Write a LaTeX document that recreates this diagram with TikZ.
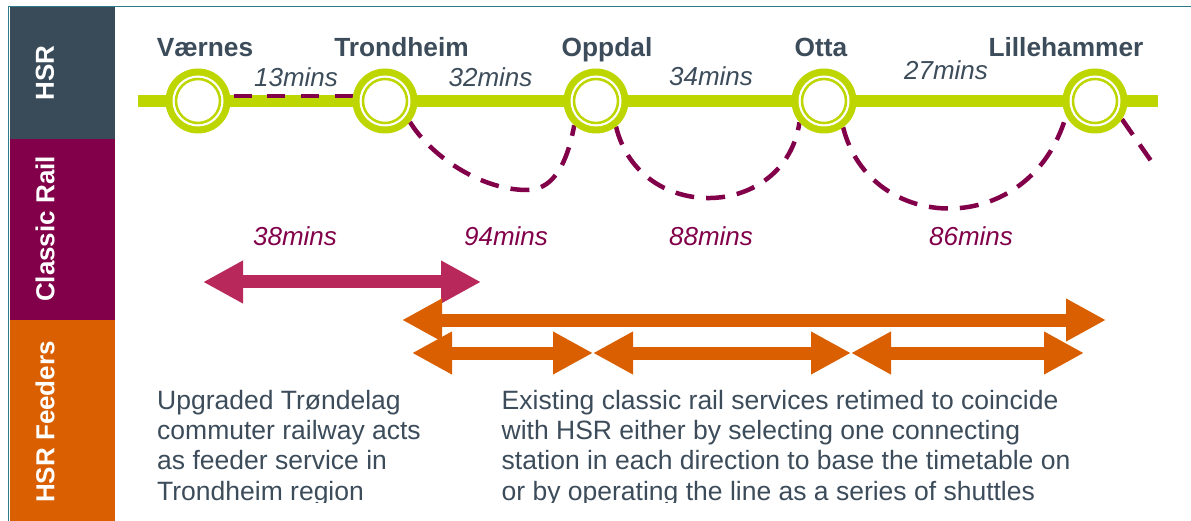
\documentclass[tikz,border=0pt]{standalone}
\usepackage{fontspec}
\setmainfont{Liberation Sans}
\usetikzlibrary{arrows.meta,calc}
\definecolor{hsr}{HTML}{394B59}
\definecolor{crail}{HTML}{82004A}
\definecolor{feed}{HTML}{D95F00}
\definecolor{lime}{HTML}{BED600}
\definecolor{pinkarr}{HTML}{B8285A}
\definecolor{txt}{HTML}{3C4C5A}
\definecolor{tealline}{HTML}{2B7C86}
\pgfdeclarelayer{bg}
\pgfsetlayers{bg,main}
\begin{document}
\begin{tikzpicture}[x=1pt,y=-1pt,
  station/.style={circle, fill=lime, minimum size=65pt, inner sep=0pt, outer sep=0pt},
  stname/.style={anchor=base, font=\fontsize{26.3}{30}\selectfont\bfseries, text=txt, inner sep=0pt},
  hsrtime/.style={anchor=base, font=\fontsize{26}{30}\selectfont\itshape, text=txt, inner sep=0pt},
  crtime/.style={anchor=base, font=\fontsize{26}{30}\selectfont\itshape, text=crail, inner sep=0pt},
  crdash/.style={draw=crail, line width=4.5pt, dash pattern=on 19pt off 12pt},
  crstraight/.style={draw=crail, line width=4.5pt, dash pattern=on 18pt off 15.7pt},
  track/.style={draw=lime, line width=12pt},
  sidelabel/.style={rotate=90, font=\fontsize{26}{30}\selectfont\bfseries, text=white, inner sep=0pt},
  bigarrow/.style={line width=13pt, arrows={Triangle[length=40pt,width=40pt]-Triangle[length=40pt,width=40pt]}},
  body/.style={anchor=base west, inner sep=0pt, text=txt}
]
\useasboundingbox (0,0) rectangle (1191,521);

% sidebar
\fill[hsr] (9.5,7) rectangle (115,139);
\fill[crail] (9.5,139) rectangle (115,320);
\fill[feed] (9.5,320) rectangle (115,521);
\draw[tealline, line width=1.5pt] (8.5,521) -- (8.5,6.5) -- (1191,6.5);
\node[sidelabel] (lhsr) at (45,73) {HSR};
\node[sidelabel] (lcr) at (45,229) {Classic Rail};
\node[sidelabel] (lfd) at (45,422) {HSR Feeders};

% stations
\node[station] (vae) at (198,101) {};
\node[station] (tro) at (385,101) {};
\node[station] (opp) at (596,101) {};
\node[station] (ott) at (824,101) {};
\node[station] (lil) at (1095,101) {};
\foreach \s in {vae,tro,opp,ott,lil}{
  \fill[white] (\s.center) circle (25.5);
  \draw[lime, line width=2.5pt] (\s.center) circle (22);
}

\begin{pgfonlayer}{bg}
  \fill[white] (0,0) rectangle (1191,521);
  \coordinate (trackW) at (138,101);
  \coordinate (trackE) at (1158,101);
  \draw[track] (trackW) -- (trackE);
  \draw[crstraight] ($(vae.east)+(3,-5)$) -- ($(tro.west)+(0,-5)$);
  \draw[crdash] (tro.-40) .. controls (430,155) and (480,190) .. (527,190)
        .. controls (550,190) and (566,170) .. (opp.-132);
  \draw[crdash] (opp.-52) .. controls (640,225) and (785,220) .. (ott.-139);
  \draw[crdash] (ott.-54) .. controls (870,235) and (1030,240) .. (lil.-153);
  \coordinate (tail) at (1156,168);
  \draw[crdash] (lil.-34) -- (tail);
\end{pgfonlayer}

% station names
\node[stname] (nvae) at (205,57) {Værnes};
\node[stname] (ntro) at (401.5,57) {Trondheim};
\node[stname] (nopp) at (607,57) {Oppdal};
\node[stname] (nott) at (821,57) {Otta};
\node[stname] (nlil) at (1066,57) {Lillehammer};

% HSR times
\node[hsrtime] (h1) at (296,87) {13mins};
\node[hsrtime] (h2) at (490.5,86.5) {32mins};
\node[hsrtime] (h3) at (711,86) {34mins};
\node[hsrtime] (h4) at (946,79.5) {27mins};

% classic rail times
\node[crtime] (c1) at (295,246) {38mins};
\node[crtime] (c2) at (506,246) {94mins};
\node[crtime] (c3) at (711,246) {88mins};
\node[crtime] (c4) at (971,246) {86mins};

% arrows
\coordinate (pa1) at (203,282);
\coordinate (pa2) at (481,282);
\draw[bigarrow, pinkarr] (pa1) -- (pa2);
\coordinate (la1) at (402,320);
\coordinate (la2) at (1106,320);
\draw[bigarrow, feed] (la1) -- (la2);
\coordinate (s1) at (412,353);
\coordinate (s2) at (593,353);
\coordinate (s3) at (851,353);
\coordinate (s4) at (1084,353);
\draw[bigarrow, feed] (s1) -- (s2);
\draw[bigarrow, feed] (s2) -- (s3);
\draw[bigarrow, feed] (s3) -- (s4);

% body texts
\begin{scope}
\clip (130,370) rectangle (1191,502.5);
\node[body] (t1) at (157,409) {\parbox[t]{330pt}{\fontsize{26.5}{30.4}\selectfont\raggedright
Upgraded Trøndelag\\commuter railway acts\\as feeder service in\\Trondheim region}};
\node[body] (t2) at (501.5,409) {\parbox[t]{650pt}{\fontsize{26.5}{30.4}\selectfont\raggedright
Existing classic rail services retimed to coincide\\with HSR either by selecting one connecting\\station in each direction to base the timetable on\\or by operating the line as a series of shuttles}};
\end{scope}
\end{tikzpicture}
\end{document}
